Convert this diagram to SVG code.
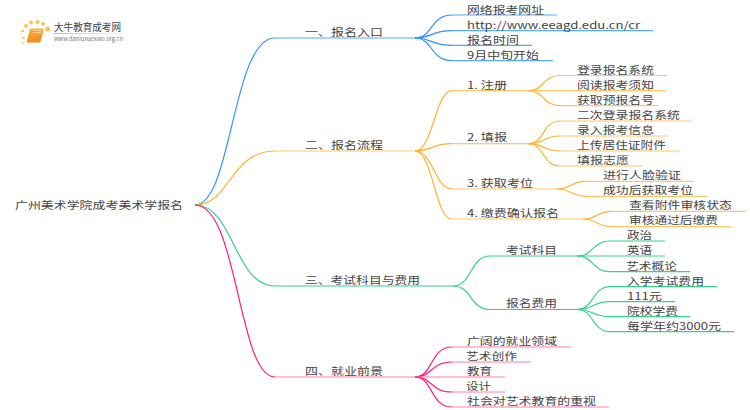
<svg xmlns="http://www.w3.org/2000/svg" width="750" height="410" viewBox="0 0 750 410">
<defs>
<linearGradient id="fade" x1="0" y1="0" x2="1" y2="0"><stop offset="0" stop-color="#bbb"/><stop offset="1" stop-color="#fff"/></linearGradient>
<linearGradient id="bookfill" x1="0" y1="0" x2="0" y2="1"><stop offset="0" stop-color="#fbb03b"/><stop offset="1" stop-color="#ee8a1d"/></linearGradient>
</defs>
<style>
text{font-family:"Noto Sans CJK SC","Noto Sans",sans-serif;font-size:10px;fill:#444}
.e{fill:none;stroke-width:1.2}
.b{stroke:#2f93ff}.bl{stroke:#55aaff}
.o{stroke:#ffb42e}.ol{stroke:#ffc766}
.g{stroke:#38cf8e}.gl{stroke:#38cf8e}
.p{stroke:#ff1f7f}.pl{stroke:#ff7db2}
.dot{fill:#fbc64f}
</style>
<rect width="750" height="410" fill="#fff"/>
<g id="logo">
<g class="dot"><circle cx="23.500" cy="38" r="1.300"/><circle cx="22.500" cy="31" r="1.500"/><circle cx="23" cy="43" r="1"/><circle cx="26" cy="26" r="2"/><circle cx="31" cy="22.500" r="2"/><circle cx="37.500" cy="22" r="2"/><circle cx="43" cy="24" r="2"/><circle cx="47.500" cy="29" r="2.500"/></g>
<path d="M31 28.500h11.500q1.500 0 1 2l-2.500 10q-.5 2-2 2h-11q-1.500 0-1-2l2.500-10q.5-2 2-2z" fill="url(#bookfill)"/>
<path d="M33 30.500h8.500M32.500 32.500h8.500" stroke="#fde3ae" stroke-width=".7"/>
<rect x="54" y="33" width="80" height="1" fill="url(#fade)"/>
<text x="54" y="31" textLength="67" lengthAdjust="spacingAndGlyphs">大牛教育成考网</text>
<text x="54" y="41" style="font-size:6px;fill:#777" textLength="69" lengthAdjust="spacingAndGlyphs">www.daniuxuexiao.org.cn</text>
</g>
<g id="connectors">
<path class="e b" d="M195 205C232 205 232 38 275 38"/><path class="e bl" d="M275 38H415"/>
<path class="e o" d="M195 205C230 205 230 151 275 151"/><path class="e ol" d="M275 151H415"/>
<path class="e g" d="M195 205C234 205 234 286 275 286"/><path class="e gl" d="M275 286H453"/>
<path class="e p" d="M195 205C238 205 238 377 275 377"/><path class="e pl" d="M275 377H415"/>
<path class="e b" d="M415 38C433 38 430 15 452 15"/><path class="e bl" d="M452 15H557"/>
<path class="e b" d="M415 38C433 38 430 30.700 452 30.700"/><path class="e bl" d="M452 30.700H653"/>
<path class="e b" d="M415 38C433 38 430 45.300 452 45.300"/><path class="e bl" d="M452 45.300H532"/>
<path class="e b" d="M415 38C433 38 430 60.700 452 60.700"/><path class="e bl" d="M452 60.700H553"/>
<path class="e o" d="M415 151C433 151 435 90.700 452 90.700"/><path class="e ol" d="M452 90.700H528"/>
<path class="e o" d="M415 151C433 151 430 143.700 452 143.700"/><path class="e ol" d="M452 143.700H528"/>
<path class="e o" d="M415 151C433 151 435 189 452 189"/><path class="e ol" d="M452 189H557"/>
<path class="e o" d="M415 151C433 151 435 219 452 219"/><path class="e ol" d="M452 219H583"/>
<path class="e o" d="M528 90.700C545 90.700 542 75.500 560 75.500"/><path class="e ol" d="M560 75.500H667"/>
<path class="e ol" d="M528 90.700H666"/>
<path class="e o" d="M528 90.700C545 90.700 542 105.700 560 105.700"/><path class="e ol" d="M560 105.700H658"/>
<path class="e o" d="M528 143.700C545 143.700 542 121 560 121"/><path class="e ol" d="M560 121H692"/>
<path class="e o" d="M528 143.700C545 143.700 542 136 560 136"/><path class="e ol" d="M560 136H668"/>
<path class="e o" d="M528 143.700C545 143.700 542 151 560 151"/><path class="e ol" d="M560 151H680"/>
<path class="e o" d="M528 143.700C545 143.700 542 166 560 166"/><path class="e ol" d="M560 166H642"/>
<path class="e o" d="M557 189C572 189 570 181.300 586 181.300"/><path class="e ol" d="M586 181.300H694"/>
<path class="e o" d="M557 189C572 189 570 196.300 586 196.300"/><path class="e ol" d="M586 196.300H707"/>
<path class="e o" d="M583 219C598 219 596 211.300 612 211.300"/><path class="e ol" d="M612 211.300H746"/>
<path class="e o" d="M583 219C598 219 596 226.700 612 226.700"/><path class="e ol" d="M612 226.700H731"/>
<path class="e g" d="M453 286C472 286 470 256 490 256"/><path class="e gl" d="M490 256H577"/>
<path class="e g" d="M453 286C472 286 470 309.500 490 309.500"/><path class="e gl" d="M490 309.500H577"/>
<path class="e g" d="M577 256C594 256 592 241 610 241"/><path class="e gl" d="M610 241H665"/>
<path class="e gl" d="M577 256H665"/>
<path class="e g" d="M577 256C594 256 592 271.700 610 271.700"/><path class="e gl" d="M610 271.700H690"/>
<path class="e g" d="M577 309.500C594 309.500 592 286.700 610 286.700"/><path class="e gl" d="M610 286.700H717"/>
<path class="e g" d="M577 309.500C594 309.500 592 301.700 610 301.700"/><path class="e gl" d="M610 301.700H675"/>
<path class="e g" d="M577 309.500C594 309.500 592 316.700 610 316.700"/><path class="e gl" d="M610 316.700H690"/>
<path class="e g" d="M577 309.500C594 309.500 592 331.700 610 331.700"/><path class="e gl" d="M610 331.700H734"/>
<path class="e p" d="M415 377C433 377 430 347 452 347"/><path class="e pl" d="M452 347H571"/>
<path class="e p" d="M415 377C433 377 430 362 452 362"/><path class="e pl" d="M452 362H531"/>
<path class="e pl" d="M415 377H505"/>
<path class="e p" d="M415 377C433 377 430 392 452 392"/><path class="e pl" d="M452 392H505"/>
<path class="e p" d="M415 377C433 377 430 407 452 407"/><path class="e pl" d="M452 407H609"/>
</g>
<g id="root"><text x="15" y="209" textLength="168" lengthAdjust="spacingAndGlyphs">广州美术学院成考美术学报名</text></g>
<g id="n1"><text x="305" y="35.500" textLength="78" lengthAdjust="spacingAndGlyphs">一、报名入口</text></g>
<g id="n1a"><text x="467" y="13.500" textLength="77" lengthAdjust="spacingAndGlyphs">网络报考网址</text></g>
<g id="n1b"><text x="467" y="28.500" textLength="173" lengthAdjust="spacingAndGlyphs">http://www.eeagd.edu.cn/cr</text></g>
<g id="n1c"><text x="467" y="43.500" textLength="52" lengthAdjust="spacingAndGlyphs">报名时间</text></g>
<g id="n1d"><text x="467" y="58.500" textLength="72" lengthAdjust="spacingAndGlyphs">9月中旬开始</text></g>
<g id="n2"><text x="305" y="148.500" textLength="78" lengthAdjust="spacingAndGlyphs">二、报名流程</text></g>
<g id="n21"><text x="467" y="88.500" textLength="40" lengthAdjust="spacingAndGlyphs">1. 注册</text></g>
<g id="n21a"><text x="577" y="73.500" textLength="77" lengthAdjust="spacingAndGlyphs">登录报名系统</text></g>
<g id="n21b"><text x="577" y="88.500" textLength="77" lengthAdjust="spacingAndGlyphs">阅读报考须知</text></g>
<g id="n21c"><text x="577" y="103.500" textLength="77" lengthAdjust="spacingAndGlyphs">获取预报名号</text></g>
<g id="n22"><text x="467" y="141" textLength="40" lengthAdjust="spacingAndGlyphs">2. 填报</text></g>
<g id="n22a"><text x="577" y="118.500" textLength="103" lengthAdjust="spacingAndGlyphs">二次登录报名系统</text></g>
<g id="n22b"><text x="577" y="133.500" textLength="77" lengthAdjust="spacingAndGlyphs">录入报考信息</text></g>
<g id="n22c"><text x="577" y="148.500" textLength="89" lengthAdjust="spacingAndGlyphs">上传居住证附件</text></g>
<g id="n22d"><text x="577" y="163.500" textLength="52" lengthAdjust="spacingAndGlyphs">填报志愿</text></g>
<g id="n23"><text x="467" y="186.500" textLength="66" lengthAdjust="spacingAndGlyphs">3. 获取考位</text></g>
<g id="n23a"><text x="603" y="178.500" textLength="78" lengthAdjust="spacingAndGlyphs">进行人脸验证</text></g>
<g id="n23b"><text x="603" y="193.500" textLength="90" lengthAdjust="spacingAndGlyphs">成功后获取考位</text></g>
<g id="n24"><text x="467" y="216.500" textLength="92" lengthAdjust="spacingAndGlyphs">4. 缴费确认报名</text></g>
<g id="n24a"><text x="629" y="208.500" textLength="103" lengthAdjust="spacingAndGlyphs">查看附件审核状态</text></g>
<g id="n24b"><text x="629" y="223.500" textLength="89" lengthAdjust="spacingAndGlyphs">审核通过后缴费</text></g>
<g id="n3"><text x="305" y="284" textLength="115" lengthAdjust="spacingAndGlyphs">三、考试科目与费用</text></g>
<g id="n31"><text x="506" y="254" textLength="51" lengthAdjust="spacingAndGlyphs">考试科目</text></g>
<g id="n31a"><text x="627" y="239" textLength="25" lengthAdjust="spacingAndGlyphs">政治</text></g>
<g id="n31b"><text x="627" y="254" textLength="25" lengthAdjust="spacingAndGlyphs">英语</text></g>
<g id="n31c"><text x="626" y="269.500" textLength="51" lengthAdjust="spacingAndGlyphs">艺术概论</text></g>
<g id="n32"><text x="506" y="307" textLength="51" lengthAdjust="spacingAndGlyphs">报名费用</text></g>
<g id="n32a"><text x="627" y="284.500" textLength="77" lengthAdjust="spacingAndGlyphs">入学考试费用</text></g>
<g id="n32b"><text x="627" y="299.500" textLength="35" lengthAdjust="spacingAndGlyphs">111元</text></g>
<g id="n32c"><text x="627" y="314.500" textLength="51" lengthAdjust="spacingAndGlyphs">院校学费</text></g>
<g id="n32d"><text x="627" y="329.500" textLength="94" lengthAdjust="spacingAndGlyphs">每学年约3000元</text></g>
<g id="n4"><text x="305" y="375" textLength="78" lengthAdjust="spacingAndGlyphs">四、就业前景</text></g>
<g id="n4a"><text x="467" y="345" textLength="90" lengthAdjust="spacingAndGlyphs">广阔的就业领域</text></g>
<g id="n4b"><text x="466" y="360" textLength="51" lengthAdjust="spacingAndGlyphs">艺术创作</text></g>
<g id="n4c"><text x="467" y="375" textLength="25" lengthAdjust="spacingAndGlyphs">教育</text></g>
<g id="n4d"><text x="466" y="390" textLength="25" lengthAdjust="spacingAndGlyphs">设计</text></g>
<g id="n4e"><text x="467" y="405" textLength="129" lengthAdjust="spacingAndGlyphs">社会对艺术教育的重视</text></g>
</svg>
